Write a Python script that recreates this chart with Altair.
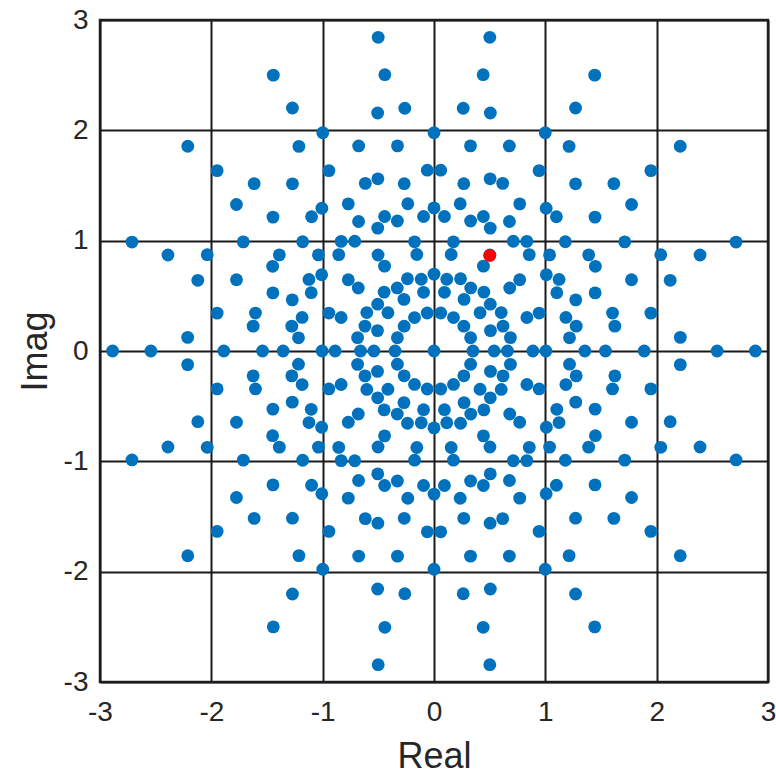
import math
import pandas as pd
import altair as alt

# Constellation: it repeats every 20 degrees (18 spokes)
spoke_angles = [0, 20, 40, 60, 80, 100, 120, 140, 160, 180,
                200, 220, 240, 260, 280, 300, 320, 340]
# rings whose points sit on the spokes
spoke_radii = [0.35, 0.54, 0.66, 0.888, 1.005, 1.355, 1.54, 1.888, 2.543, 2.887]
# rings whose points sit halfway between spokes (+10 deg)
mid_radii = [0.697, 1.297, 1.978]
# rings with pairs of points split around a centre angle
pair_radii = [1.223, 1.64, 2.216]
pair_centre = [10, 10, 0]
pair_half_gap = [4.4, 2.1, 3.2]
# centre point
centre_re = [0.0]
centre_im = [0.0]
# highlighted point
red_re = [0.5]
red_im = [0.866]

rows = []
for re_, im_ in zip(centre_re, centre_im):
    rows.append({"re": re_, "im": im_})
for a in spoke_angles:
    for r in spoke_radii:
        t = math.radians(a)
        rows.append({"re": r * math.cos(t), "im": r * math.sin(t)})
    for r in mid_radii:
        t = math.radians(a + 10)
        rows.append({"re": r * math.cos(t), "im": r * math.sin(t)})
    for r, c, g in zip(pair_radii, pair_centre, pair_half_gap):
        for s in (-g, g):
            t = math.radians(a + c + s)
            rows.append({"re": r * math.cos(t), "im": r * math.sin(t)})
df = pd.DataFrame(rows)
df_red = pd.DataFrame({"re": red_re, "im": red_im})

ticks = [-3, -2, -1, 0, 1, 2, 3]
FONT = "Liberation Sans"
TXT = "#262626"
GRID = "#1a1a1a"

xaxis = alt.Axis(values=ticks, title="Real", grid=True, gridColor=GRID, gridWidth=2,
                 gridOpacity=1, domain=False, ticks=False, labelFontSize=28, labelFont=FONT,
                 labelColor=TXT, labelPadding=16, labelFlush=False, titleFontSize=36,
                 titleFont=FONT, titleFontWeight="normal", titleColor=TXT,
                 titleY=85, titleBaseline="alphabetic", labelExpr="'' + datum.value")
yaxis = alt.Axis(values=ticks, title="Imag", grid=True, gridColor=GRID, gridWidth=2,
                 gridOpacity=1, domain=False, ticks=False, labelFontSize=28, labelFont=FONT,
                 labelColor=TXT, labelPadding=12, labelFlush=False, titleFontSize=36,
                 titleFont=FONT, titleFontWeight="normal", titleColor=TXT,
                 titleX=-54, titleBaseline="alphabetic", labelExpr="'' + datum.value")

xs = alt.Scale(domain=[-3, 3], nice=False, zero=False)
ys = alt.Scale(domain=[-3, 3], nice=False, zero=False)

blue = alt.Chart(df).mark_circle(size=165, opacity=1, color="#0072BD").encode(
    x=alt.X("re:Q", scale=xs, axis=xaxis),
    y=alt.Y("im:Q", scale=ys, axis=yaxis),
)
red = alt.Chart(df_red).mark_circle(size=165, opacity=1, color="#FF0000").encode(
    x=alt.X("re:Q", scale=xs),
    y=alt.Y("im:Q", scale=ys),
)

chart = alt.layer(blue, red).properties(
    width=668, height=662,
    autosize=alt.AutoSizeParams(type="none"),
    padding={"left": 100, "top": 20, "right": 8, "bottom": 92},
    background="white",
).configure_view(stroke="#262626", strokeWidth=2.5)

chart.save("out.html", embed_options={"renderer": "svg", "actions": False})
